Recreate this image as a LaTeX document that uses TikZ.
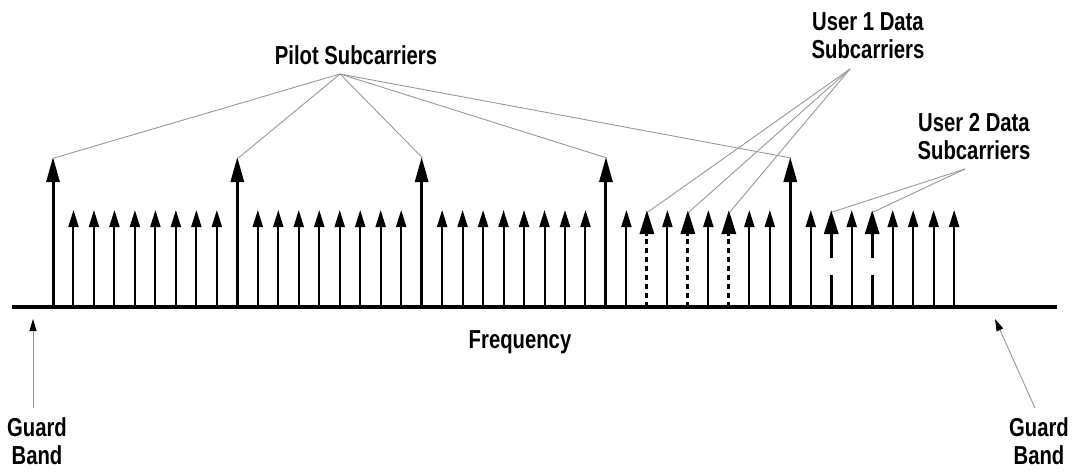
\documentclass[tikz,border=0pt]{standalone}
\usepackage{fontspec}
\newfontfamily\lblfont[FakeStretch=0.78]{Liberation Sans}
\usetikzlibrary{arrows.meta}
\begin{document}
\begin{tikzpicture}[x=1pt,y=-1pt,
  lead/.style={draw=black!40, line width=0.9pt},
  pilotarrow/.style={line width=3pt,-{Triangle[length=25pt,width=13pt]}},
  subarrow/.style={line width=2pt,-{Triangle[length=17pt,width=10pt]}},
  userhead/.style={line width=3pt,-{Triangle[length=24pt,width=14pt]}},
  userone/.style={line width=3pt, dash pattern=on 5pt off 4pt},
  usertwo/.style={line width=3pt},
  guardarrow/.style={draw=black!40, line width=0.9pt,-{Triangle[length=12pt,width=7pt,color=black]}},
  lbl/.style={font=\lblfont\bfseries\fontsize{26}{28}\selectfont, align=center, inner sep=0pt},
]
\useasboundingbox (0,0) rectangle (1086,474);

% coordinates of the subcarriers
\foreach \i in {0,...,44}{
  \pgfmathsetmacro\xx{53+20.48*\i}
  \coordinate (b\i) at (\xx,307);
  \coordinate (t\i) at (\xx,210);
  \coordinate (p\i) at (\xx,157);
  \coordinate (h\i) at (\xx,236);
  \coordinate (gu\i) at (\xx,258);
  \coordinate (gl\i) at (\xx,275);
}

% frequency axis
\coordinate (axl) at (12,307);
\coordinate (axr) at (1057,307);
\draw[line width=3.5pt] (axl) -- (axr);

% pilot subcarriers
\foreach \i in {0,9,18,27,36}{
  \draw[pilotarrow] (b\i) -- (p\i);
}
% ordinary subcarriers
\foreach \i in {1,...,8,10,11,12,13,14,15,16,17,19,20,21,22,23,24,25,26,28,30,32,34,35,37,39,41,42,43,44}{
  \draw[subarrow] (b\i) -- (t\i);
}
% user 1 data subcarriers
\foreach \i in {29,31,33}{
  \draw[userone] (b\i) -- (h\i);
  \draw[userhead] (h\i) -- (t\i);
}
% user 2 data subcarriers
\foreach \i in {38,40}{
  \draw[usertwo] (b\i) -- (gl\i);
  \draw[usertwo] (gu\i) -- (h\i);
  \draw[userhead] (h\i) -- (t\i);
}

% labels
\node[lbl] (pilot) at (356,55) {Pilot Subcarriers};
\node[lbl] (uone) at (868,36) {User 1 Data\\Subcarriers};
\node[lbl] (utwo) at (974,137) {User 2 Data\\Subcarriers};
\node[lbl] (freq) at (520,342) {Frequency};
\node[lbl] (gbl) at (37,441) {Guard\\Band};
\node[lbl] (gbr) at (1039,441) {Guard\\Band};

% leader lines
\coordinate (pc) at (340,74);
\coordinate (uc1) at (850,69);
\coordinate (uc2) at (965,169);
\foreach \i in {0,9,18,27,36}{
  \draw[lead] (pc) -- ([xshift=1pt,yshift=-1pt]p\i);
}
\foreach \i in {29,31,33}{
  \draw[lead] (uc1) -- ([xshift=1pt,yshift=-2pt]t\i);
}
\foreach \i in {38,40}{
  \draw[lead] (uc2) -- ([xshift=1pt,yshift=-2pt]t\i);
}

% guard band arrows
\coordinate (gls) at (33,408);
\coordinate (gle) at (33,319);
\coordinate (grs) at (1035,408);
\coordinate (gre) at (995,319);
\draw[guardarrow] (gls) -- (gle);
\draw[guardarrow] (grs) -- (gre);
\end{tikzpicture}
\end{document}
